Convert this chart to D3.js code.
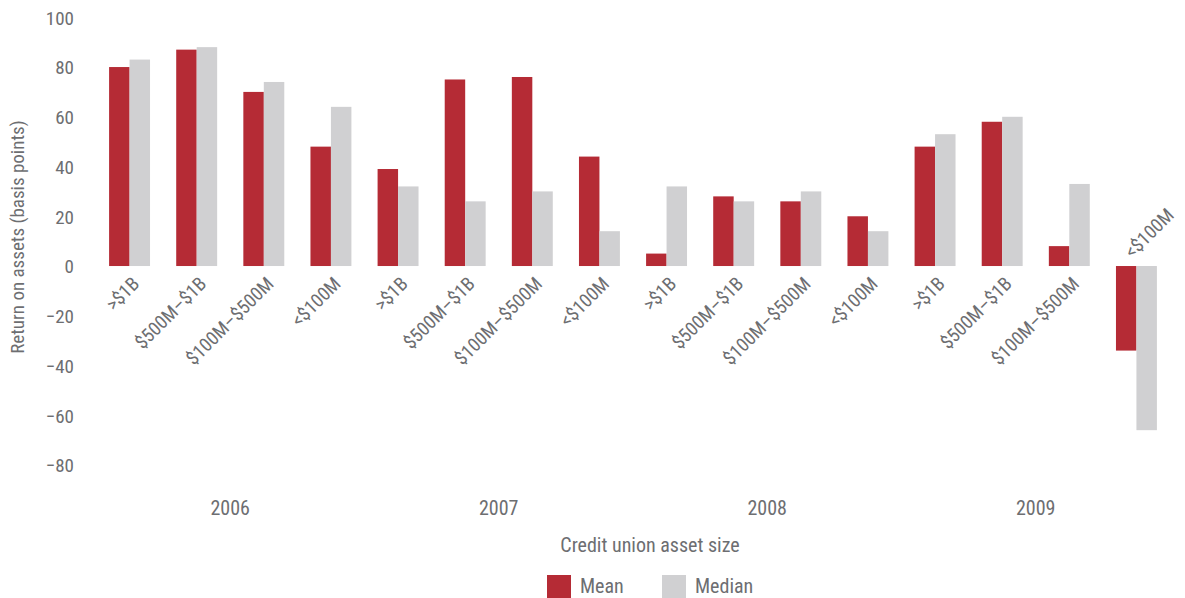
<!DOCTYPE html>
<html>
<head>
<meta charset="utf-8">
<script src="https://cdn.jsdelivr.net/npm/d3@7"></script>
<style>
  html, body { margin: 0; padding: 0; background: #ffffff; }
  svg { display: block; }
  text { font-family: "Liberation Sans Narrow", "Roboto Condensed", "Arial Narrow", "Liberation Sans", sans-serif; fill: #6d6e71; }
</style>
</head>
<body>
<svg id="chart" width="1185" height="598"></svg>
<script>
// ---- Data ----
const years = ["2006", "2007", "2008", "2009"];
const sizes = [">$1B", "$500M\u2013$1B", "$100M\u2013$500M", "<$100M"];
const meanValues   = [80, 87, 70, 48,  39, 75, 76, 44,  5, 28, 26, 20,  48, 58,  8, -34];
const medianValues = [83, 88, 74, 64,  32, 26, 30, 14, 32, 26, 30, 14,  53, 60, 33, -66];
const seriesNames = ["Mean", "Median"];
const yTicks = [100, 80, 60, 40, 20, 0, -20, -40, -60, -80];

const colors = { Mean: "#b52b35", Median: "#d0d0d2" };

// Build rows
const rows = [];
years.forEach((yr, yi) => {
  sizes.forEach((sz, si) => {
    const i = yi * sizes.length + si;
    rows.push({ id: i, year: yr, size: sz, Mean: meanValues[i], Median: medianValues[i] });
  });
});

const svg = d3.select("#chart");

const x = d3.scaleBand()
  .domain(rows.map(d => d.id))
  .range([96, 1170])
  .paddingInner(0.39)
  .paddingOuter(0.195);

const xs = d3.scaleBand()
  .domain(seriesNames)
  .range([0, x.bandwidth()])
  .padding(0);

const y = d3.scaleLinear()
  .domain([-80, 100])
  .range([465, 17.3]);

// Y axis (labels only)
const yAxis = d3.axisLeft(y).tickValues(yTicks).tickSize(0).tickPadding(0)
  .tickFormat(d => d < 0 ? "\u2212" + Math.abs(d) : String(d));
const gy = svg.append("g").attr("transform", "translate(74,0)").call(yAxis);
gy.select(".domain").remove();
gy.selectAll("text")
  .attr("dy", "0.36em")
  .style("font-size", "19px")
  .style("font-family", null)
  .attr("fill", "#6d6e71");

// Bars
const groups = svg.append("g").selectAll("g")
  .data(rows).join("g")
  .attr("transform", d => `translate(${x(d.id)},0)`);

groups.selectAll("rect")
  .data(d => seriesNames.map(k => ({ key: k, value: d[k] })))
  .join("rect")
  .attr("x", d => xs(d.key))
  .attr("width", xs.bandwidth())
  .attr("y", d => y(Math.max(0, d.value)))
  .attr("height", d => Math.abs(y(d.value) - y(0)))
  .attr("fill", d => colors[d.key]);

// Category labels (rotated)
svg.append("g").selectAll("text")
  .data(rows).join("text")
  .attr("transform", d => {
    const cx = x(d.id) + x.bandwidth() / 2;
    const neg = Math.min(d.Mean, d.Median) < 0;
    return neg ? `translate(${cx - 4},${y(0) - 7}) rotate(-45)`
               : `translate(${cx + 11},${y(0) + 19}) rotate(-45)`;
  })
  .attr("text-anchor", d => Math.min(d.Mean, d.Median) < 0 ? "start" : "end")
  .style("font-size", "19px")
  .text(d => d.size);

// Year labels
svg.append("g").selectAll("text")
  .data(years).join("text")
  .attr("x", yr => {
    const ids = rows.filter(r => r.year === yr).map(r => r.id);
    return (x(ids[0]) + x(ids[ids.length - 1]) + x.bandwidth()) / 2;
  })
  .attr("y", 515)
  .attr("text-anchor", "middle")
  .style("font-size", "20px")
  .text(yr => yr);

// X axis title
svg.append("text")
  .attr("x", 650).attr("y", 552)
  .attr("text-anchor", "middle")
  .style("font-size", "20px")
  .text("Credit union asset size");

// Y axis title
svg.append("text")
  .attr("transform", "translate(24,237) rotate(-90)")
  .attr("text-anchor", "middle")
  .style("font-size", "19px")
  .text("Return on assets (basis points)");

// Legend
const legend = svg.append("g").selectAll("g")
  .data(seriesNames).join("g")
  .attr("transform", (d, i) => `translate(${547 + i * 115},575)`);
legend.append("rect")
  .attr("width", 24).attr("height", 24)
  .attr("fill", d => colors[d]);
legend.append("text")
  .attr("x", 33).attr("y", 18)
  .style("font-size", "20px")
  .text(d => d);
</script>
</body>
</html>
